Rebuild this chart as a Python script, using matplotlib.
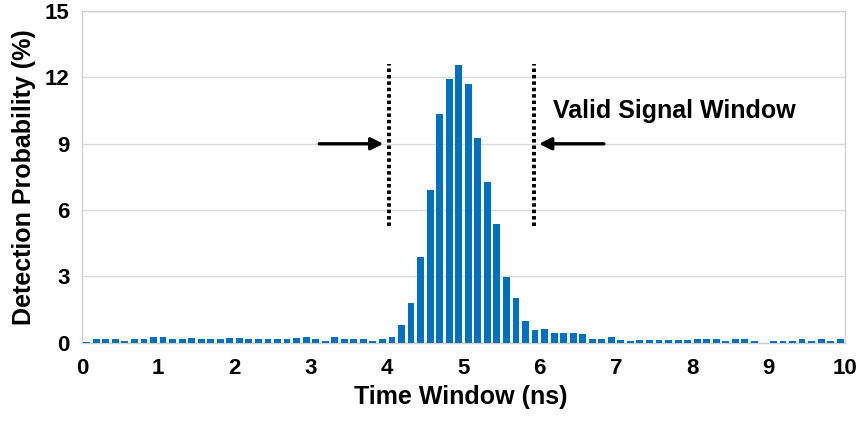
import numpy as np
import matplotlib
matplotlib.use('Agg')
import matplotlib.pyplot as plt

plt.rcParams['font.family'] = ['Liberation Sans', 'DejaVu Sans']
plt.rcParams['font.weight'] = 'bold'

# 80 time bins of 0.125 ns between 0 and 10 ns
bin_width = 0.125
detection_prob = [
    0.05, 0.15, 0.15, 0.15, 0.06, 0.15, 0.18, 0.27, 0.27, 0.15,
    0.15, 0.21, 0.15, 0.15, 0.15, 0.21, 0.21, 0.15, 0.15, 0.15,
    0.15, 0.15, 0.23, 0.24, 0.15, 0.06, 0.27, 0.15, 0.15, 0.15,
    0.06, 0.15, 0.27, 0.78, 1.78, 3.89, 6.91, 10.35, 11.92, 12.58,
    11.70, 9.25, 7.28, 5.37, 2.99, 2.01, 0.98, 0.57, 0.62, 0.42,
    0.42, 0.42, 0.38, 0.15, 0.15, 0.24, 0.12, 0.08, 0.12, 0.12,
    0.12, 0.12, 0.12, 0.12, 0.17, 0.17, 0.17, 0.09, 0.17, 0.17,
    0.08, 0.0, 0.08, 0.08, 0.08, 0.15, 0.08, 0.17, 0.08, 0.17,
]
x_ticks = list(range(0, 11))
y_ticks = [0, 3, 6, 9, 12, 15]

# valid signal window markers
window_edges = [4.03, 5.92]
window_span = (5.3, 12.6)
arrow_level = 9.0
left_arrow = (3.11, 3.95)
right_arrow = (6.84, 5.99)

centers = (np.arange(len(detection_prob)) + 0.5) * bin_width

fig = plt.figure(figsize=(8.61, 4.21), dpi=100)
ax = fig.add_axes([0.0952, 0.186, 0.8862, 0.7874])

ax.bar(centers, detection_prob, width=bin_width * 0.72, color='#0070C0',
       zorder=3)

ax.set_xlim(0, 10)
ax.set_ylim(0, 15)
ax.set_xticks(x_ticks)
ax.set_yticks(y_ticks)
ax.tick_params(axis='both', length=0, labelsize=16)
ax.tick_params(axis='x', pad=11)
ax.tick_params(axis='y', pad=9)
ax.yaxis.grid(True, color='#D9D9D9', linewidth=1.0, zorder=0)
ax.set_axisbelow(True)
for s in ax.spines.values():
    s.set_color('#D0D0D0')
    s.set_linewidth(1.0)

ax.set_xlabel('Time Window (ns)', fontsize=18, fontweight='bold')
ax.set_ylabel('Detection Probability (%)', fontsize=18, fontweight='bold')
ax.xaxis.set_label_coords(0.496, -0.128)
ax.yaxis.set_label_coords(-0.06, 0.5)

for xe in window_edges:
    ax.plot([xe, xe], window_span, color='black', linestyle=(0, (0.9, 0.75)),
            linewidth=2.8, zorder=4)

for x0, x1 in (left_arrow, right_arrow):
    ax.annotate('', xy=(x1, arrow_level), xytext=(x0, arrow_level),
                arrowprops=dict(arrowstyle='-|>', color='black', lw=2.4,
                                mutation_scale=18, shrinkA=0, shrinkB=0),
                zorder=5)

ax.text(6.17, 10.5, 'Valid Signal Window', fontsize=18, fontweight='bold',
        ha='left', va='center')

fig.savefig('out.png', dpi=100)
